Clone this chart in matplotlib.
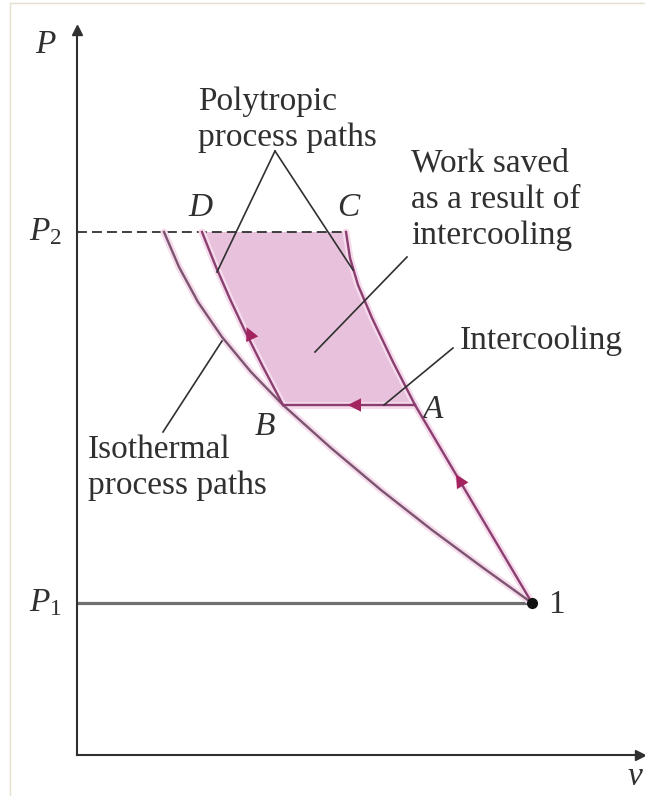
"""P-v diagram: two-stage compression with intercooling."""

import matplotlib
matplotlib.use("Agg")
import matplotlib.pyplot as plt
from matplotlib.lines import Line2D

plt.rcParams["font.family"] = ["Liberation Serif", "DejaVu Serif"]
plt.rcParams["mathtext.fontset"] = "custom"
plt.rcParams["mathtext.it"] = "Liberation Serif:italic"
plt.rcParams["mathtext.rm"] = "Liberation Serif"

# --- data (v, P in arbitrary units) ---
P1 = 1.52
P2 = 5.23

# stage 1 polytropic, state 1 -> A
stage1_v = [4.55, 3.97, 3.38]
stage1_P = [1.52, 2.50, 3.50]

# single-stage polytropic continued, A -> C
single_v = [3.38, 3.16, 2.95, 2.81, 2.73, 2.69]
single_P = [3.50, 3.93, 4.37, 4.70, 4.97, 5.23]

# intercooling A -> B at constant pressure
cool_v = [3.38, 2.06]
cool_P = [3.50, 3.50]

# stage 2 polytropic, B -> D
stage2_v = [2.06, 1.85, 1.68, 1.53, 1.39, 1.25]
stage2_P = [3.50, 3.90, 4.24, 4.56, 4.88, 5.23]

# isothermal from state 1 up to P2
iso_v = [4.55, 4.05, 3.55, 3.04, 2.54, 2.06, 1.74, 1.45, 1.21, 1.02, 0.87]
iso_P = [1.52, 1.88, 2.25, 2.65, 3.07, 3.50, 3.83, 4.18, 4.53, 4.88, 5.23]

# point labels: text, v, P, italic
point_labels = [
    ("D", 1.23, 5.47, True),
    ("C", 2.71, 5.47, True),
    ("A", 3.56, 3.45, True),
    ("B", 1.88, 3.28, True),
    ("1", 4.79, 1.50, False),
]

# callouts: lines of text, left v, first baseline P, leader segments
callouts = [
    (["Polytropic", "process paths"], 1.21, 6.45,
     [((1.98, 6.04), (1.40, 4.83)), ((1.98, 6.04), (2.76, 4.85))]),
    (["Work saved", "as a result of", "intercooling"], 3.34, 5.83,
     [((3.30, 4.98), (2.38, 4.03))]),
    (["Intercooling"], 3.83, 4.06,
     [((3.76, 4.07), (3.07, 3.50))]),
    (["Isothermal", "process paths"], 0.11, 2.97,
     [((0.86, 3.23), (1.45, 4.14))]),
]

PATH = "#8a3f70"
ISO = "#7b5470"
GLOW = "#f6dbec"
FILL = "#e8c1dc"
ARROW = "#a3235f"
INK = "#303030"
FS = 24

fig = plt.figure(figsize=(6.45, 7.96), dpi=100)
ax = fig.add_axes([77 / 645, 41 / 796, 563 / 645, 725 / 796])
ax.set_xlim(0, 5.63)
ax.set_ylim(0, 7.25)
ax.set_xticks([])
ax.set_yticks([])
for side in ("top", "right"):
    ax.spines[side].set_visible(False)
for side in ("left", "bottom"):
    ax.spines[side].set_color(INK)
    ax.spines[side].set_linewidth(1.5)
ax.plot(1, 0, ">", color=INK, ms=7, transform=ax.transAxes, clip_on=False)
ax.plot(0, 1, "^", color=INK, ms=7, transform=ax.transAxes, clip_on=False)

# shaded work-saved area: B -> D, along P2 to C, down to A, back to B
fill_v = stage2_v + single_v[::-1]
fill_P = stage2_P + single_P[::-1]
ax.fill(fill_v, fill_P, color=FILL, lw=0, zorder=1)

# pressure lines
ax.plot([0, stage1_v[0]], [P1, P1], color="#707070", lw=2.3, zorder=2)
ax.plot([0, single_v[-1]], [P2, P2], color=INK, lw=1.3, dashes=(5.5, 2.8), zorder=2)

# process curves with a soft pink halo
for vs, ps, col in [(iso_v, iso_P, ISO), (stage1_v, stage1_P, PATH),
                    (single_v, single_P, PATH), (cool_v, cool_P, PATH),
                    (stage2_v, stage2_P, PATH)]:
    ax.plot(vs, ps, color=GLOW, lw=5, solid_capstyle="round", zorder=3)
    ax.plot(vs, ps, color=col, lw=1.7, solid_joinstyle="round", zorder=4)


def flow_arrow(vs, ps, frac):
    """Arrowhead a fraction of the way along the first-to-last chord."""
    v = vs[0] + frac * (vs[-1] - vs[0])
    p = ps[0] + frac * (ps[-1] - ps[0])
    dv = 0.03 * (vs[-1] - vs[0])
    dp = 0.03 * (ps[-1] - ps[0])
    ax.annotate("", xy=(v + dv, p + dp), xytext=(v - dv, p - dp),
                arrowprops=dict(arrowstyle="-|>,head_length=0.6,head_width=0.3",
                                color=ARROW, lw=0,
                                mutation_scale=16, shrinkA=0, shrinkB=0),
                zorder=5)


flow_arrow(stage1_v, stage1_P, 0.62)
flow_arrow(cool_v, cool_P, 0.48)
flow_arrow(stage2_v, stage2_P, 0.42)

ax.plot(stage1_v[0], stage1_P[0], "o", color="#111111", ms=7, zorder=6)

# axis and pressure labels
ax.text(-0.32, 7.10, "P", fontsize=FS, style="italic", color=INK,
        ha="center", va="center", clip_on=False)
ax.text(-0.32, P2, "$P_2$", fontsize=FS, color=INK, ha="center", va="center")
ax.text(-0.32, P1, "$P_1$", fontsize=FS, color=INK, ha="center", va="center")
ax.text(5.58, -0.22, "v", fontsize=FS, style="italic", color=INK,
        ha="center", va="center", clip_on=False)

for txt, v, p, italic in point_labels:
    ax.text(v, p, txt, fontsize=FS, color=INK, ha="center", va="center",
            style="italic" if italic else "normal")

for lines, v0, p0, leaders in callouts:
    for i, line in enumerate(lines):
        ax.text(v0, p0 - 0.36 * i, line, fontsize=FS, color=INK,
                ha="left", va="baseline")
    for (va_, pa), (vb, pb) in leaders:
        ax.plot([va_, vb], [pa, pb], color=INK, lw=1.2, zorder=5)

# faint frame of the original scan
fig.add_artist(Line2D([10 / 645, 10 / 645], [0, 793 / 796], color="#e6e0d0", lw=1))
fig.add_artist(Line2D([10 / 645, 1], [793 / 796, 793 / 796], color="#e6e0d0", lw=1))

fig.savefig("out.png", dpi=100)
